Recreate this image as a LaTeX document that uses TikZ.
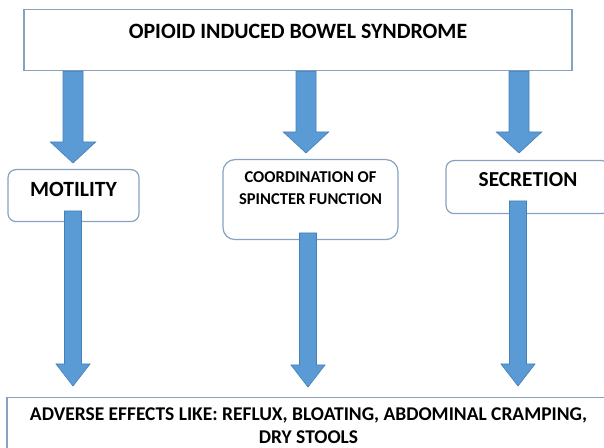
\documentclass[tikz,border=0pt]{standalone}
\usepackage{fontspec}
\setmainfont{Carlito}
\usetikzlibrary{calc}

\definecolor{boxline}{RGB}{135,162,190}
\definecolor{arrowfill}{RGB}{91,155,213}
\definecolor{arrowedge}{RGB}{70,128,186}

\tikzset{
  box/.style={draw=boxline, line width=0.9pt, fill=white, inner sep=0pt, align=center},
  roundbox/.style={box, rounded corners=6pt},
  blockarrow/.style={fill=arrowfill, draw=arrowedge, line width=0.5pt},
}

% block arrow: from, to, shaft half width, head half width, head length
\newcommand{\fatarrow}[5]{%
  \draw[blockarrow] let \p1=(#1), \p2=(#2) in
    ({\x2-#3},\y1) -- ({\x2-#3},{\y2+#5}) -- ({\x2-#4},{\y2+#5}) -- (\x2,\y2)
    -- ({\x2+#4},{\y2+#5}) -- ({\x2+#3},{\y2+#5}) -- ({\x2+#3},\y1) -- cycle;}

\begin{document}
\begin{tikzpicture}[x=0.75pt,y=0.75pt]
        \useasboundingbox (0,0) rectangle (604,448);
        \clip (0,0) rectangle (604,448);
        %\draw[very thin,gray,step=10] (0,0) grid (604,448) ;

        \node[box, anchor=north, minimum width=411pt, text height=21.75pt, text depth=24pt,
          font=\bfseries\fontsize{16.4}{19}\selectfont] (title) at (298,439)
          {OPIOID INDUCED BOWEL SYNDROME};

        \node[roundbox, anchor=north, minimum width=98.25pt, text height=20.25pt, text depth=18.75pt,
          font=\bfseries\fontsize{16.3}{19}\selectfont] (motility) at (73.5,279) {MOTILITY};
        \node[roundbox, rounded corners=9pt, anchor=north, minimum width=131.25pt,
          text height=33.75pt, text depth=26.25pt,
          font=\bfseries\fontsize{12.4}{16.5}\selectfont] (coord) at (310.5,289)
          {COORDINATION OF\\SPINCTER FUNCTION};
        \node[roundbox, anchor=north, minimum width=123pt, text height=19.5pt, text depth=20.25pt,
          font=\bfseries\fontsize{16}{19}\selectfont] (secretion) at (528,288) {SECRETION};

        \node[box, anchor=north, minimum width=452.25pt, text height=34.5pt, text depth=25.5pt,
          font=\bfseries\fontsize{14.6}{17.25}\selectfont] (effects) at (308.5,51)
          {ADVERSE EFFECTS LIKE: REFLUX, BLOATING, ABDOMINAL CRAMPING,\\DRY STOOLS};

        % arrow ends
        \coordinate (tipA) at (73,285) ;
        \coordinate (tipB) at (306,295) ;
        \coordinate (tipC) at (519,295) ;
        \coordinate (motout) at (73,237) ;
        \coordinate (coordout) at (308,215) ;
        \coordinate (secrout) at (518,247) ;
        \coordinate (effA) at (73,62) ;
        \coordinate (effB) at (308,61) ;
        \coordinate (effC) at (518,62) ;

        \fatarrow{title.south -| tipA}{tipA}{7.5pt}{17pt}{15.75pt}
        \fatarrow{title.south -| tipB}{tipB}{7.5pt}{17pt}{15.75pt}
        \fatarrow{title.south -| tipC}{tipC}{7.5pt}{17pt}{15.75pt}

        \fatarrow{motout}{effA}{6.4pt}{12.75pt}{16.5pt}
        \fatarrow{coordout}{effB}{6.4pt}{12.75pt}{16.5pt}
        \fatarrow{secrout}{effC}{6.4pt}{12.75pt}{16.5pt}
      \end{tikzpicture}
\end{document}
